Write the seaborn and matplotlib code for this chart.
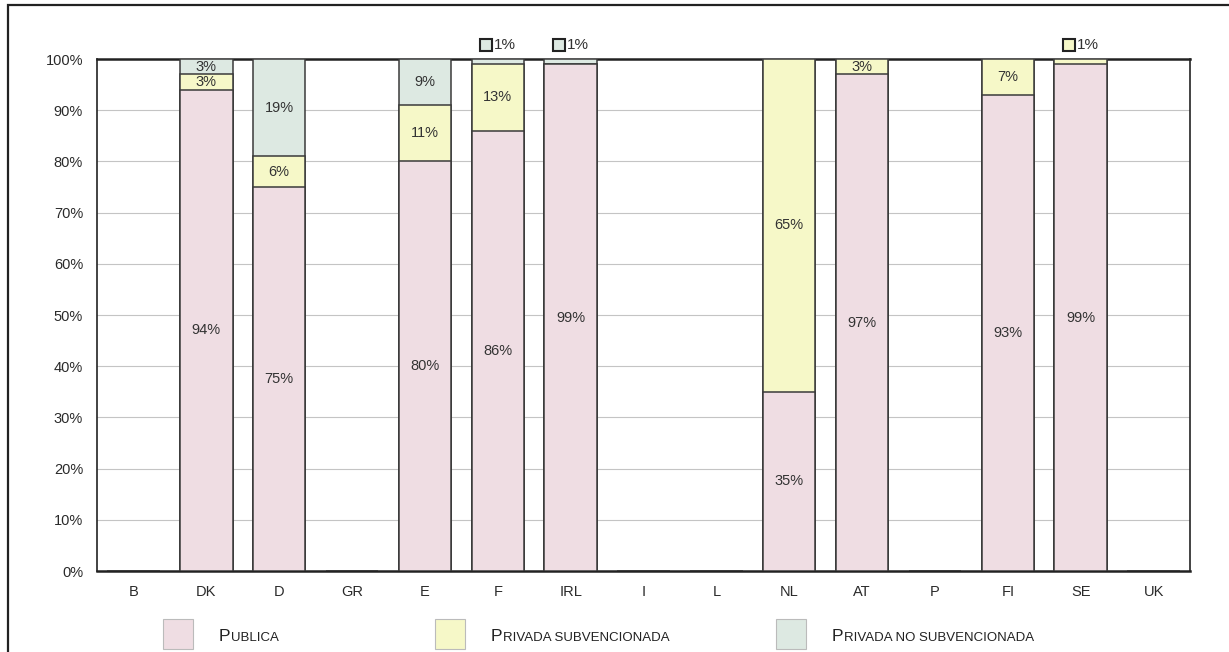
import numpy as np
import pandas as pd
import seaborn as sns
import matplotlib
matplotlib.use('Agg')
import matplotlib.pyplot as plt
from matplotlib.patches import Rectangle

countries = ['B', 'DK', 'D', 'GR', 'E', 'F', 'IRL', 'I', 'L', 'NL', 'AT', 'P', 'FI', 'SE', 'UK']
publica = [0, 94, 75, 0, 80, 86, 99, 0, 0, 35, 97, 0, 93, 99, 0]
privada_subv = [0, 3, 6, 0, 11, 13, 0, 0, 0, 65, 3, 0, 7, 1, 0]
privada_no_subv = [0, 3, 19, 0, 9, 1, 1, 0, 0, 0, 0, 0, 0, 0, 0]

series_names = ['Publica', 'Privada subvencionada', 'Privada no subvencionada']
colors = ['#efdde3', '#f6f8c8', '#dde9e2']
edge = '#3a3a3a'

df = pd.DataFrame({'pais': countries, 'pub': publica,
                   'subv': privada_subv, 'nosubv': privada_no_subv})
df['c1'] = df['pub']
df['c2'] = df['pub'] + df['subv']
df['c3'] = df['c2'] + df['nosubv']

sns.set_style('white')
plt.rcParams['font.family'] = ['Liberation Sans', 'DejaVu Sans']

fig = plt.figure(figsize=(12.29, 6.52), dpi=100)
ax = fig.add_axes([0.0789, 0.1242, 0.8894, 0.7853])

# stacked bars: draw cumulative totals from the top layer down
w = 0.72
for col, c in zip(['c3', 'c2', 'c1'], colors[::-1]):
    sns.barplot(data=df, x='pais', y=col, color=c, edgecolor=edge,
                linewidth=1.1, width=w, saturation=1, ax=ax, zorder=3)

ax.set_ylim(0, 100)
ax.set_xlim(-0.5, len(countries) - 0.5)
ax.set_yticks(np.arange(0, 101, 10))
ax.set_yticklabels([f'{v}%' for v in range(0, 101, 10)], fontsize=10.5, color='#2a2a2a')
ax.set_xticks(range(len(countries)))
ax.set_xticklabels(countries, fontsize=10.5, color='#2a2a2a')
ax.set_xticks(np.arange(-0.5, len(countries), 1), minor=True)
ax.tick_params(axis='both', which='major', length=0, pad=10)
ax.tick_params(axis='x', which='minor', direction='in', length=4, color='#555555')
ax.set_xlabel('')
ax.set_ylabel('')
ax.yaxis.grid(True, color='#c4c4c4', linewidth=0.8, zorder=0)
ax.set_axisbelow(True)
for s in ax.spines.values():
    s.set_visible(True)
    s.set_color('#222222')
    s.set_linewidth(1.2)
ax.spines['top'].set_linewidth(1.8)
ax.spines['bottom'].set_linewidth(1.8)

# value labels
layers = [('pub', 0), ('subv', 1), ('nosubv', 2)]
for i, row in df.iterrows():
    base = 0
    for key, k in layers:
        v = row[key]
        if v >= 3:
            ax.text(i, base + v / 2, f'{v}%', ha='center', va='center',
                    fontsize=10.5, color='#333333', zorder=5)
        elif v > 0:
            ax.plot(i - 0.16, 102.7, marker='s', markersize=9, markerfacecolor=colors[k],
                    markeredgecolor='#222222', markeredgewidth=1.5, clip_on=False, zorder=5)
            ax.text(i - 0.05, 102.7, f'{v}%', ha='left', va='center',
                    fontsize=11, color='#333333', clip_on=False)
        base += v

# legend with small caps style labels
leg_x = [163, 435, 776]
for x0, name, c in zip(leg_x, series_names, colors):
    fig.patches.append(Rectangle((x0 / 1229, 3 / 652), 30 / 1229, 30 / 652,
                                 transform=fig.transFigure, facecolor=c,
                                 edgecolor='#bbbbbb', linewidth=0.8))
    first = fig.text((x0 + 56) / 1229, 11 / 652, name[0].upper(), fontsize=12.5,
                     color='#222222', ha='left', va='baseline')
    ax.annotate(name[1:].upper(), xy=(1, 0), xycoords=first, xytext=(0.5, 0),
                textcoords='offset points', fontsize=9.5, color='#222222',
                ha='left', va='bottom', annotation_clip=False)

# outer frame of the figure panel
fig.patches.append(Rectangle((8 / 1229, -0.1), 1.2, 1.1 - 5 / 652,
                             transform=fig.transFigure, fill=False,
                             edgecolor='#222222', linewidth=1.6))

fig.savefig('out.png', dpi=100)
